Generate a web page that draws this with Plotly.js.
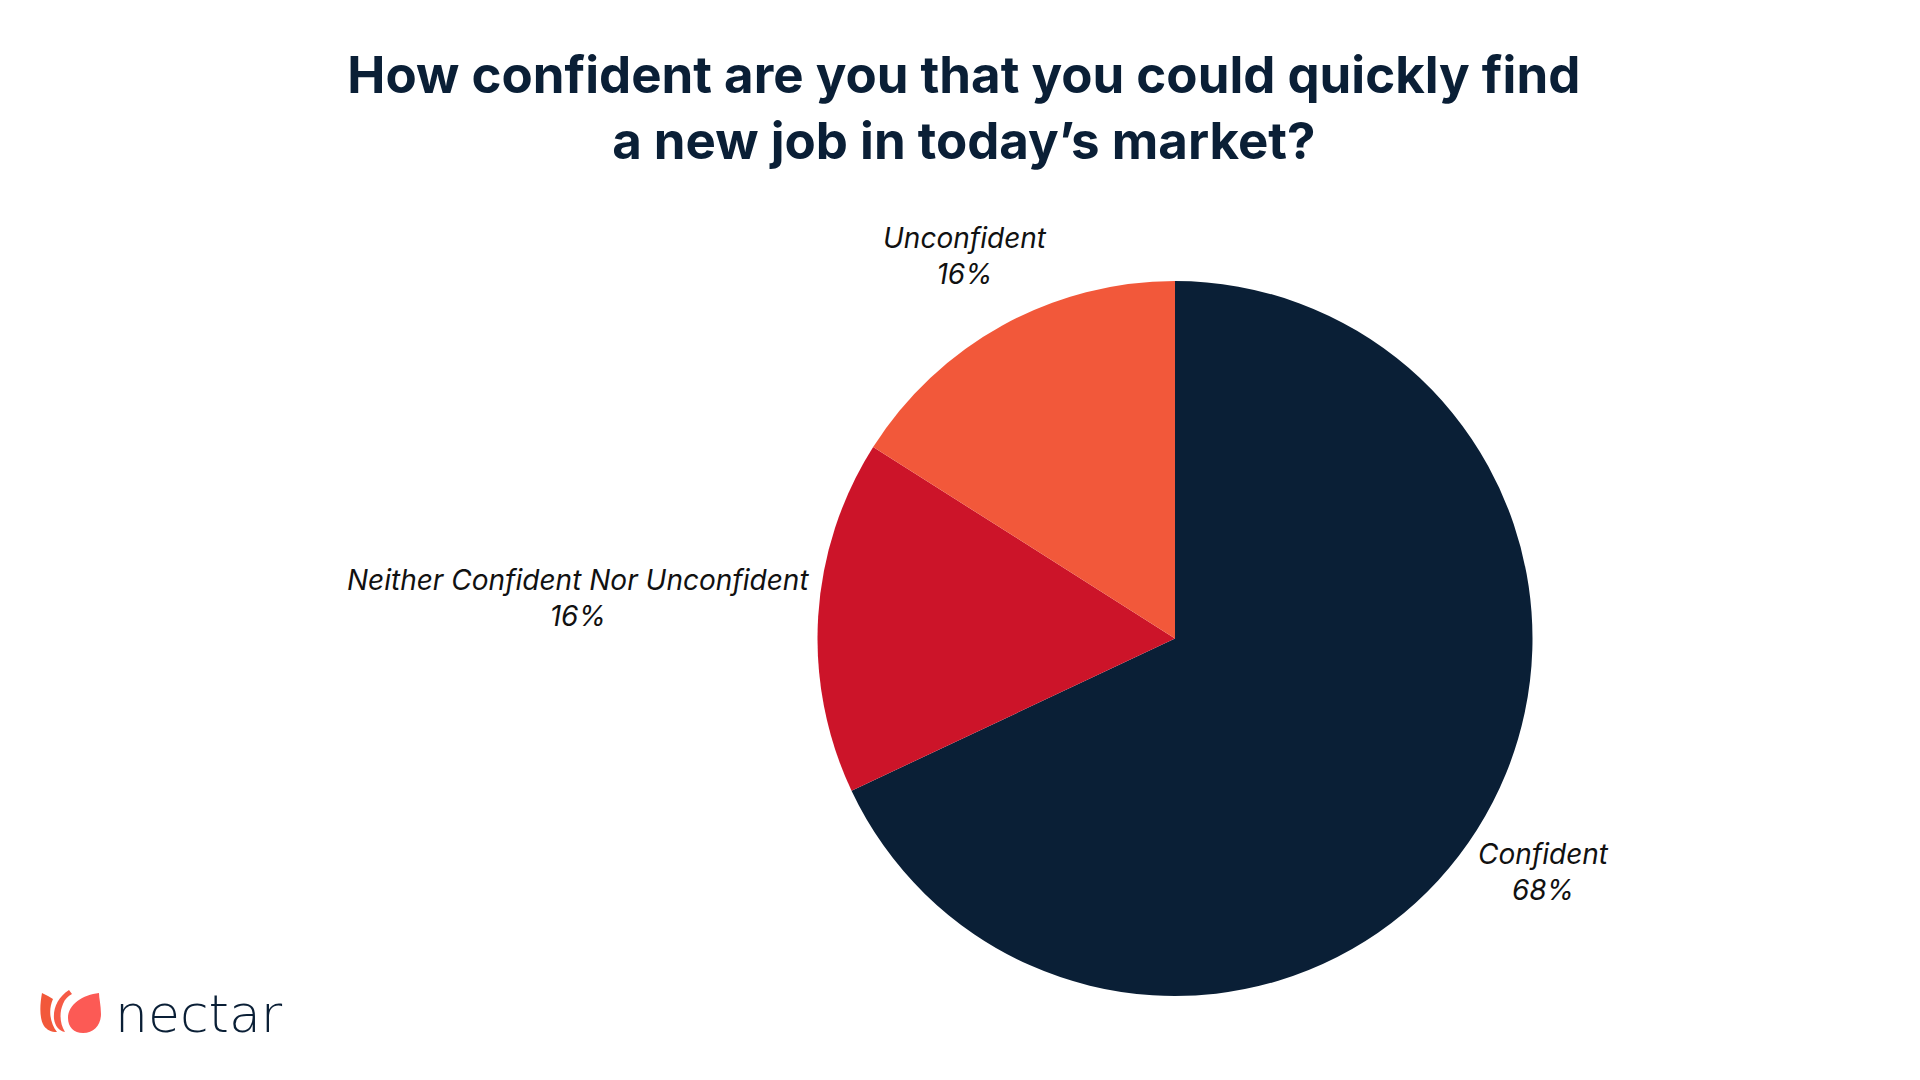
<!DOCTYPE html>
<html>
<head>
<meta charset="utf-8">
<script src="https://cdn.plot.ly/plotly-3.0.1.min.js"></script>
<style>
  html, body { margin: 0; padding: 0; background: #ffffff; }
  #chart { width: 1920px; height: 1080px; }
</style>
</head>
<body>
<div id="chart"></div>
<script>
// ---- data ----
const categories = ["Confident", "Neither Confident Nor Unconfident", "Unconfident"];
const values = [68, 16, 16];
const sliceColors = ["#0a1f36", "#cc1429", "#f2583a"];
const titleText = "How confident are you that you could quickly find<br>a new job in today’s market?";
const brandName = "nectar";

// ---- layout geometry (pixels) ----
const W = 1920, H = 1080;
const pieCx = 1175, pieCy = 638.5, pieR = 357.5;
const pieDomain = {
  x: [(pieCx - pieR) / W, (pieCx + pieR) / W],
  y: [1 - (pieCy + pieR) / H, 1 - (pieCy - pieR) / H]
};
const labelFont = { family: "Inter, 'Noto Sans', sans-serif", size: 28, color: "#111111", style: "italic" };

// ---- labels placed from each slice's mid-angle (clockwise from 12 o'clock) ----
const total = values.reduce((a, b) => a + b, 0);
let cum = 0;
const labelAnnotations = values.map((v, i) => {
  const midFrac = (cum + v / 2) / total;
  cum += v;
  const th = midFrac * 2 * Math.PI;
  const ux = Math.sin(th), uy = -Math.cos(th);
  const pct = Math.round(v / total * 100) + "%";
  const ann = {
    text: "<i>" + categories[i] + "</i><br><i>" + pct + "</i>",
    xref: "paper", yref: "paper",
    showarrow: false, align: "center",
    font: labelFont
  };
  if (Math.abs(ux) > 0.95) {
    const d = pieR + 7;
    ann.x = (pieCx + ux * d) / W;
    ann.y = 1 - (pieCy + uy * d - 18) / H;
    ann.xanchor = ux < 0 ? "right" : "left";
    ann.yanchor = "middle";
  } else {
    const d = pieR * 1.22;
    ann.x = (pieCx + ux * d) / W;
    ann.y = 1 - (pieCy + uy * d) / H;
    ann.xanchor = "center";
    ann.yanchor = "middle";
  }
  return ann;
});

// ---- decorative logo (pixel -> paper) ----
function P(x, y) { return (x / W).toFixed(5) + "," + (1 - y / H).toFixed(5); }
function pathFrom(cmds) {
  return cmds.map(c => {
    const pts = [];
    for (let k = 1; k < c.length; k += 2) pts.push(P(c[k], c[k + 1]));
    return c[0] + " " + pts.join(" ");
  }).join(" ") + " Z";
}
const petalRight = pathFrom([
  ["M", 99, 993],
  ["C", 83, 995, 68, 1004, 68, 1018],
  ["C", 68, 1027, 74, 1033, 83, 1033],
  ["C", 94, 1033, 101, 1025, 101, 1014],
  ["C", 101, 1005, 99, 998, 99, 993]
]);
const petalMid = pathFrom([
  ["M", 69, 990],
  ["C", 58, 997, 53, 1008, 54, 1019],
  ["C", 55, 1026, 59, 1031, 65, 1032],
  ["C", 60, 1024, 59, 1013, 63, 1004],
  ["C", 65, 999, 68, 996, 72, 994]
]);
const petalLeft = pathFrom([
  ["M", 42, 993],
  ["C", 40, 1004, 39, 1018, 44, 1026],
  ["C", 47, 1030, 51, 1032, 57, 1032],
  ["C", 50, 1023, 48, 1010, 53, 999],
  ["L", 48, 996]
]);

const trace = {
  type: "pie",
  labels: categories,
  values: values,
  sort: false,
  direction: "clockwise",
  rotation: 0,
  marker: { colors: sliceColors, line: { width: 0 } },
  textinfo: "none",
  hoverinfo: "label+percent",
  domain: pieDomain,
  showlegend: false
};

const layout = {
  width: W,
  height: H,
  margin: { l: 0, r: 0, t: 0, b: 0 },
  paper_bgcolor: "#ffffff",
  plot_bgcolor: "#ffffff",
  showlegend: false,
  title: {
    text: titleText,
    font: { family: "Inter, 'Noto Sans', sans-serif", size: 51, color: "#0a1f36", weight: 700 },
    x: 0.502,
    xanchor: "center",
    xref: "paper",
    yref: "container",
    y: 1 - 93 / H,
    yanchor: "top"
  },
  shapes: [
    { type: "path", xref: "paper", yref: "paper", path: petalLeft, fillcolor: "#f2583a", line: { width: 0 } },
    { type: "path", xref: "paper", yref: "paper", path: petalMid, fillcolor: "#f65a46", line: { width: 0 } },
    { type: "path", xref: "paper", yref: "paper", path: petalRight, fillcolor: "#fc5a55", line: { width: 0 } }
  ],
  annotations: labelAnnotations.concat([
    {
      text: brandName,
      xref: "paper", yref: "paper",
      x: 113 / W, y: 1 - 1014 / H,
      xanchor: "left", yanchor: "middle",
      showarrow: false,
      font: { family: "'DejaVu Sans', sans-serif", size: 52, color: "#0a1f36", weight: 200 }
    }
  ])
};

Plotly.newPlot("chart", [trace], layout, { staticPlot: true, displayModeBar: false });
</script>
</body>
</html>
